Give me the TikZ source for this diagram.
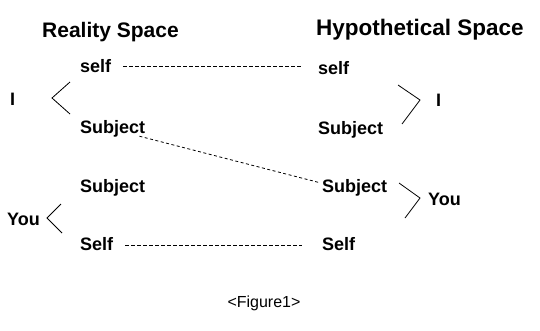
\documentclass[tikz,border=0pt]{standalone}
\usepackage{fontspec}
\setmainfont{Liberation Sans}
\begin{document}
\begin{tikzpicture}[x=1pt,y=-1pt,
  lbl/.style={anchor=base west,inner sep=0pt,font=\fontsize{18}{20}\selectfont\bfseries,text height=13pt,text depth=4pt},
  hdr/.style={anchor=base west,inner sep=0pt,font=\fontsize{21}{24}\selectfont\bfseries},
  link/.style={line width=0.8pt,dash pattern=on 4pt off 2pt},
  dlink/.style={line width=0.8pt,dash pattern=on 3pt off 2.5pt},
  brk/.style={line width=0.8pt,line join=miter}]
\useasboundingbox (0,0) rectangle (540,330);
% headers
\node[hdr] (hr) at (42,37) {Reality Space};
\node[hdr,font=\fontsize{22.5}{25}\selectfont\bfseries] (hh) at (316,35) {Hypothetical Space};
% left column
\node[lbl] (sL) at (80,72) {self};
\node[lbl] (jL) at (80,133) {Subject};
\node[lbl] (iL) at (10,105) {I};
\node[lbl] (j2L) at (80,192) {Subject};
\node[lbl] (s2L) at (80,250) {Self};
\node[lbl] (yL) at (7,225) {You};
% right column
\node[lbl] (sR) at (318,74) {self};
\node[lbl] (jR) at (318,134) {Subject};
\node[lbl] (iR) at (436,106) {I};
\node[lbl] (j2R) at (322,192) {Subject};
\node[lbl] (s2R) at (322,250) {Self};
\node[lbl] (yR) at (428,205) {You};
% caption
\node[anchor=base,inner sep=0pt,font=\fontsize{16}{18}\selectfont] (cap) at (264,307) {<Figure1>};
% brackets
\coordinate (a1) at (70,82); \coordinate (a2) at (52,98); \coordinate (a3) at (70,114);
\draw[brk] (a1) -- (a2) -- (a3);
\coordinate (b1) at (398,85); \coordinate (b2) at (420,100); \coordinate (b3) at (402,124);
\draw[brk] (b1) -- (b2) -- (b3);
\coordinate (c1) at (61,204); \coordinate (c2) at (47,218); \coordinate (c3) at (62,233);
\draw[brk] (c1) -- (c2) -- (c3);
\coordinate (d1) at (399,183); \coordinate (d2) at (420,198); \coordinate (d3) at (405,218);
\draw[brk] (d1) -- (d2) -- (d3);
% links
\draw[link] ([xshift=12pt,yshift=1pt]sL.east) -- ([xshift=-16pt,yshift=1pt]sL.east -| sR.west);
\draw[link] ([xshift=12pt]s2L.east) -- ([xshift=-20pt]s2L.east -| s2R.west);
\draw[dlink] ([xshift=-6pt,yshift=1pt]jL.south east) -- ([xshift=-3pt,yshift=5pt]j2R.west);
\end{tikzpicture}
\end{document}
